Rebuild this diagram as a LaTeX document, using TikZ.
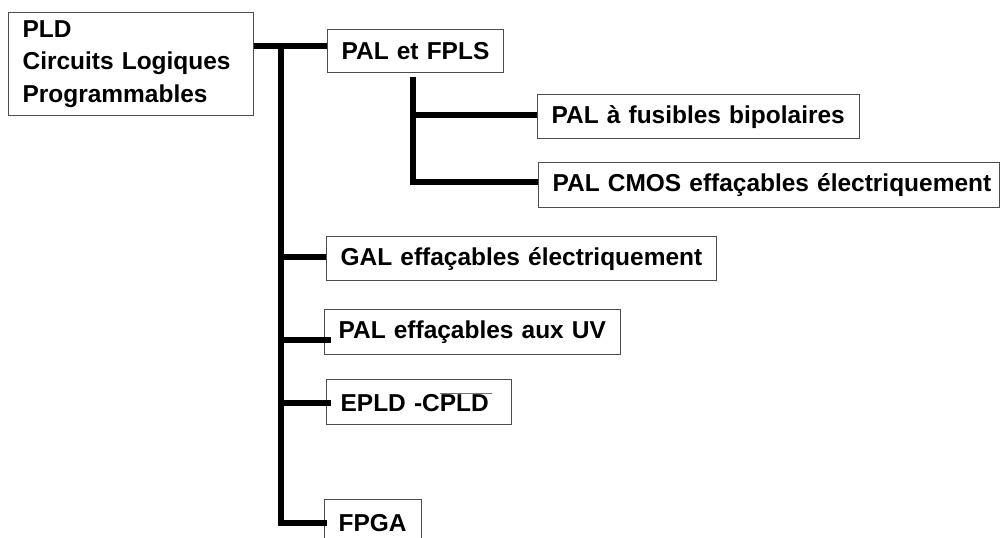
\documentclass[tikz,border=0pt]{standalone}
\usepackage{fontspec}
\setmainfont{Liberation Sans}
\usepackage{tikz}
\usetikzlibrary{positioning,calc}
\newcommand{\etiq}{\bfseries\fontsize{17.4}{22.8}\selectfont}

\begin{document}
\begin{tikzpicture}[x=0.25mm,y=-0.25mm,
    boite/.style={draw=black!70,line width=0.9pt,anchor=north west,
      inner xsep=3.5mm,inner ysep=0pt,align=left,font=\etiq},
    branche/.style={line width=4.2pt}]
  \clip (0,0) rectangle (1003,538);
  \node[boite,text width=54.25mm,minimum height=25.75mm] (root) at (8,12)
    {\rule{0pt}{5pt}PLD\\Circuits Logiques\\Programmables};
  \node[boite,text width=37mm,minimum height=10.75mm] (fpls) at (327,29) {PAL et FPLS};
  \node[boite,text width=73.5mm,minimum height=11mm] (fus) at (537,94) {PAL à fusibles bipolaires};
  \node[boite,text width=108.25mm,minimum height=11.25mm] (cmos) at (538,162)
    {\mbox{PAL CMOS effaçables électriquement}};
  \node[boite,text width=90.5mm,minimum height=11mm] (gal) at (326,236) {GAL effaçables électriquement};
  \node[boite,text width=67mm,minimum height=11.25mm] (uv) at (324,309) {PAL effaçables aux UV};
  \node[boite,text width=39.25mm,minimum height=11.25mm] (epld) at (326,379)
    {EPLD -C\rlap{\color{black!55}\rule[12.8pt]{37pt}{0.5pt}}PLD};
  \node[boite,text width=17.25mm,minimum height=11.5mm] (fpga) at (324,499) {FPGA};

  \coordinate (tronc) at (281,46);
  \coordinate (tgal) at (281,257);
  \coordinate (tuv) at (281,340);
  \coordinate (tepld) at (281,403);
  \coordinate (tfpga) at (281,523);
  \coordinate (sous) at (413,77);
  \coordinate (sfus) at (413,115);
  \coordinate (scmos) at (413,182);

  \draw[branche] (root.east |- tronc) -- (tronc -| fpls.west);
  \draw[branche] (tronc) -- (tfpga) -- ([xshift=0.75mm]tfpga -| fpga.west);
  \draw[branche] (tgal) -- (tgal -| gal.west);
  \draw[branche] (tuv) -- ([xshift=1.75mm]tuv -| uv.west);
  \draw[branche] (tepld) -- ([xshift=1.25mm]tepld -| epld.west);
  \draw[branche] (sous) -- (scmos) -- (scmos -| cmos.west);
  \draw[branche] (sfus) -- (sfus -| fus.west);
\end{tikzpicture}
\end{document}
